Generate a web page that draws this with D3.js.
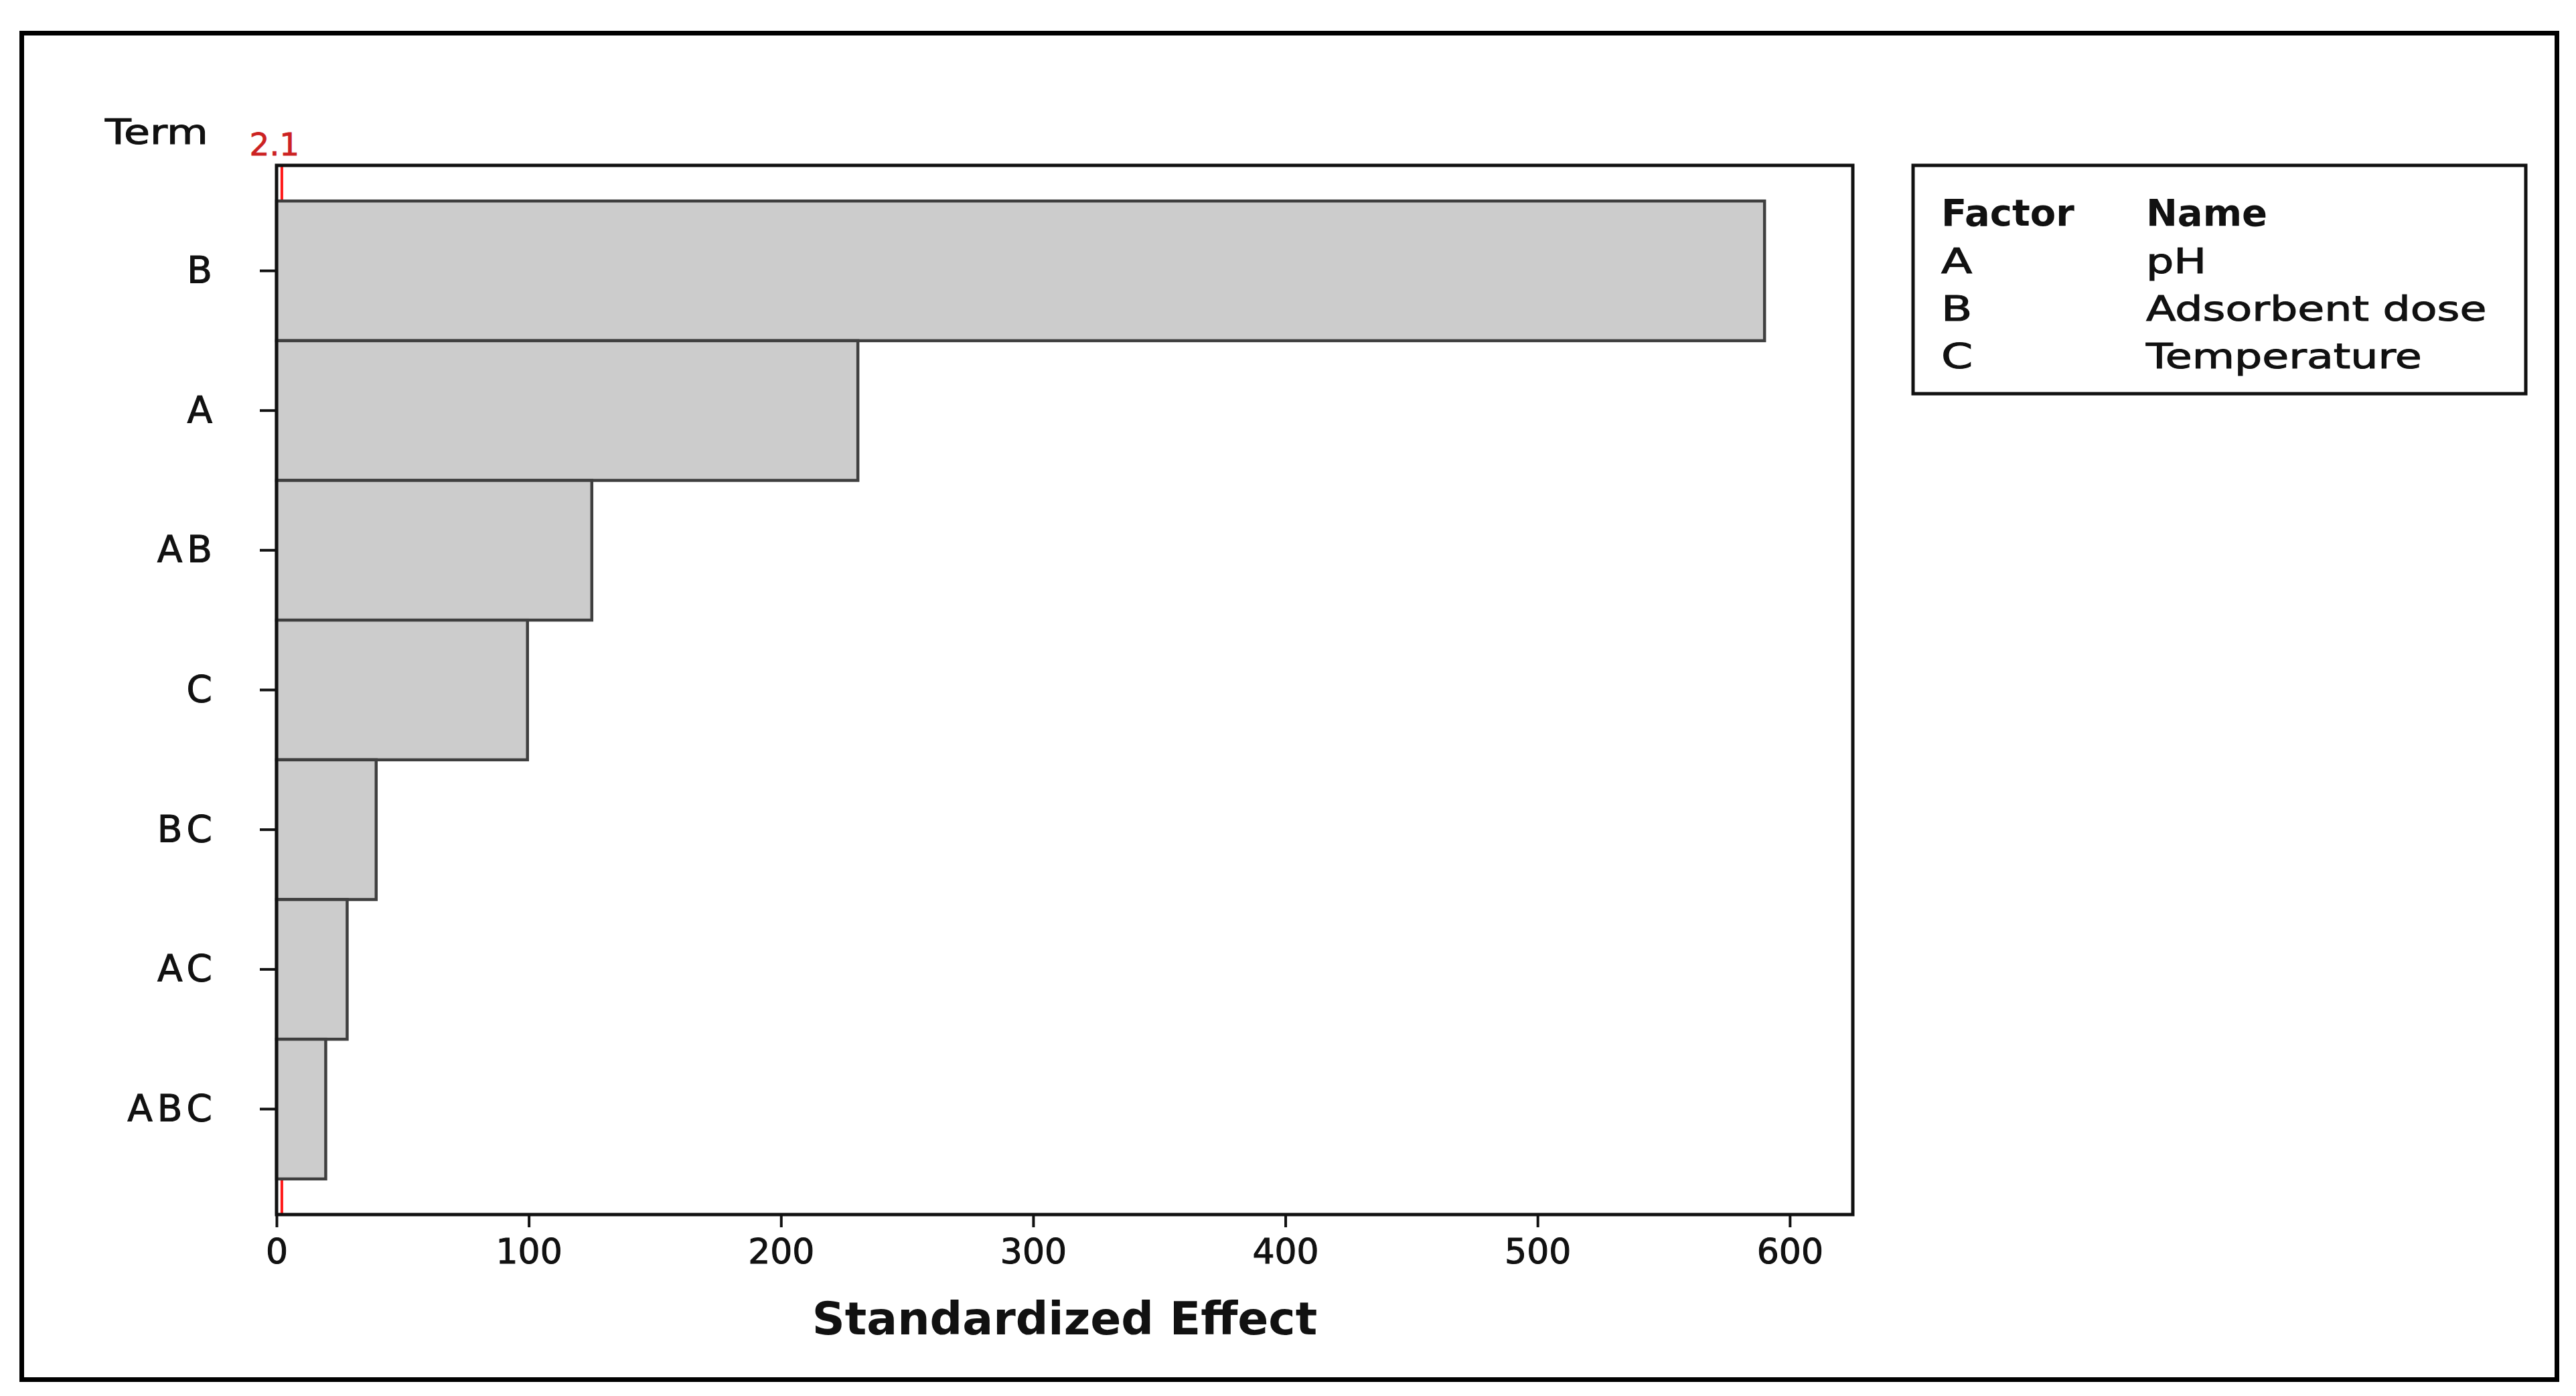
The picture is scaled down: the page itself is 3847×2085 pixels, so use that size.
<!DOCTYPE html>
<html>
<head>
<meta charset="utf-8">
<script src="https://cdn.jsdelivr.net/npm/d3@7"></script>
<style>
  html, body { margin: 0; padding: 0; background: #ffffff; }
  svg { display: block; }
  text { font-family: "DejaVu Sans", sans-serif; }
</style>
</head>
<body>
<svg id="chart" width="3847" height="2085"></svg>
<script>
// ---- data ----
const terms = ["B", "A", "AB", "C", "BC", "AC", "ABC"];
const effects = [590, 230.5, 125, 99.5, 39.5, 28, 19.5];
const refValue = 2.1;
const refLabel = "2.1";
const xTicks = [0, 100, 200, 300, 400, 500, 600];
const xTitle = "Standardized Effect";
const yTitle = "Term";
const legendHeader = ["Factor", "Name"];
const legendFactors = ["A", "B", "C"];
const legendNames = ["pH", "Adsorbent dose", "Temperature"];

// ---- layout ----
const W = 3847, H = 2085;
const plot = { left: 413, right: 2767, top: 247, bottom: 1814 };
const svg = d3.select("#chart");

svg.append("rect").attr("x", 0).attr("y", 0).attr("width", W).attr("height", H).attr("fill", "#fff");
// outer border
svg.append("rect")
  .attr("x", 32.5).attr("y", 49.5).attr("width", 3786).attr("height", 2011)
  .attr("fill", "none").attr("stroke", "#000").attr("stroke-width", 7);

const x = d3.scaleLinear().domain([0, 625]).range([plot.left, plot.right]);
const y = d3.scaleBand().domain(terms).range([plot.top, plot.bottom])
  .paddingInner(0).paddingOuter(0.255);

const data = terms.map((t, i) => ({ term: t, value: effects[i] }));

// reference line (behind bars)
svg.append("line")
  .attr("x1", x(refValue)).attr("x2", x(refValue))
  .attr("y1", plot.top).attr("y2", plot.bottom)
  .attr("stroke", "#ff1a1a").attr("stroke-width", 4);

// bars
svg.append("g").selectAll("rect").data(data).join("rect")
  .attr("x", x(0))
  .attr("y", d => y(d.term))
  .attr("width", d => x(d.value) - x(0))
  .attr("height", y.bandwidth())
  .attr("fill", "#cccccc")
  .attr("stroke", "#3f3f3f")
  .attr("stroke-width", 4.5);

// plot frame
svg.append("rect")
  .attr("x", plot.left).attr("y", plot.top)
  .attr("width", plot.right - plot.left).attr("height", plot.bottom - plot.top)
  .attr("fill", "none").attr("stroke", "#111").attr("stroke-width", 5);

const heavy = sel => sel.attr("stroke", "#111").attr("stroke-width", 1.1);

// x axis
const xAxis = svg.append("g").attr("transform", `translate(0,${plot.bottom})`)
  .call(d3.axisBottom(x).tickValues(xTicks).tickSize(19).tickPadding(17).tickFormat(d3.format("d")));
xAxis.select(".domain").remove();
xAxis.selectAll(".tick line").attr("stroke", "#111").attr("stroke-width", 4);
xAxis.selectAll(".tick text").attr("fill", "#111").style("font-size", "52px").style("font-family", "DejaVu Sans")
  .call(heavy);

// y axis
const yAxis = svg.append("g").attr("transform", `translate(${plot.left},0)`)
  .call(d3.axisLeft(y).tickSize(25).tickPadding(64));
yAxis.select(".domain").remove();
yAxis.selectAll(".tick line").attr("stroke", "#111").attr("stroke-width", 4);
yAxis.selectAll(".tick text").attr("fill", "#111")
  .style("font-size", "55px").style("font-family", "DejaVu Sans")
  .style("letter-spacing", "7px").call(heavy);

// stretch helper
function stretch(sel, k) {
  sel.each(function () {
    const w = this.getComputedTextLength();
    d3.select(this).attr("textLength", w * k).attr("lengthAdjust", "spacingAndGlyphs");
  });
}

// titles
svg.append("text")
  .attr("x", (plot.left + plot.right) / 2).attr("y", 1993)
  .attr("text-anchor", "middle").attr("font-weight", "bold")
  .style("font-size", "68px").attr("fill", "#111").text(xTitle);

const termT = svg.append("text")
  .attr("x", 157).attr("y", 215)
  .style("font-size", "52px").attr("fill", "#111").call(heavy).text(yTitle);
stretch(termT, 1.22);

svg.append("text")
  .attr("x", x(refValue) - 11).attr("y", 232)
  .attr("text-anchor", "middle")
  .style("font-size", "47px").attr("fill", "#cc2222")
  .attr("stroke", "#cc2222").attr("stroke-width", 0.8).text(refLabel);

// legend box
const lg = { left: 2857, top: 247, right: 3772, bottom: 588 };
svg.append("rect")
  .attr("x", lg.left).attr("y", lg.top)
  .attr("width", lg.right - lg.left).attr("height", lg.bottom - lg.top)
  .attr("fill", "#fff").attr("stroke", "#111").attr("stroke-width", 5);

const colX = [2899, 3205];
const rowY = d3.scaleLinear().domain([0, 3]).range([337, 550]);

svg.append("g").selectAll("text").data(legendHeader).join("text")
  .attr("x", (d, i) => colX[i]).attr("y", rowY(0))
  .attr("font-weight", "bold").style("font-size", "56px").attr("fill", "#111")
  .text(d => d);

const f = svg.append("g").selectAll("text").data(legendFactors).join("text")
  .attr("x", colX[0]).attr("y", (d, i) => rowY(i + 1))
  .style("font-size", "52px").attr("fill", "#111").call(heavy).text(d => d);
stretch(f, 1.3);

const n = svg.append("g").selectAll("text").data(legendNames).join("text")
  .attr("x", colX[1]).attr("y", (d, i) => rowY(i + 1))
  .style("font-size", "52px").attr("fill", "#111").call(heavy).text(d => d);
stretch(n, 1.25);
</script>
</body>
</html>
